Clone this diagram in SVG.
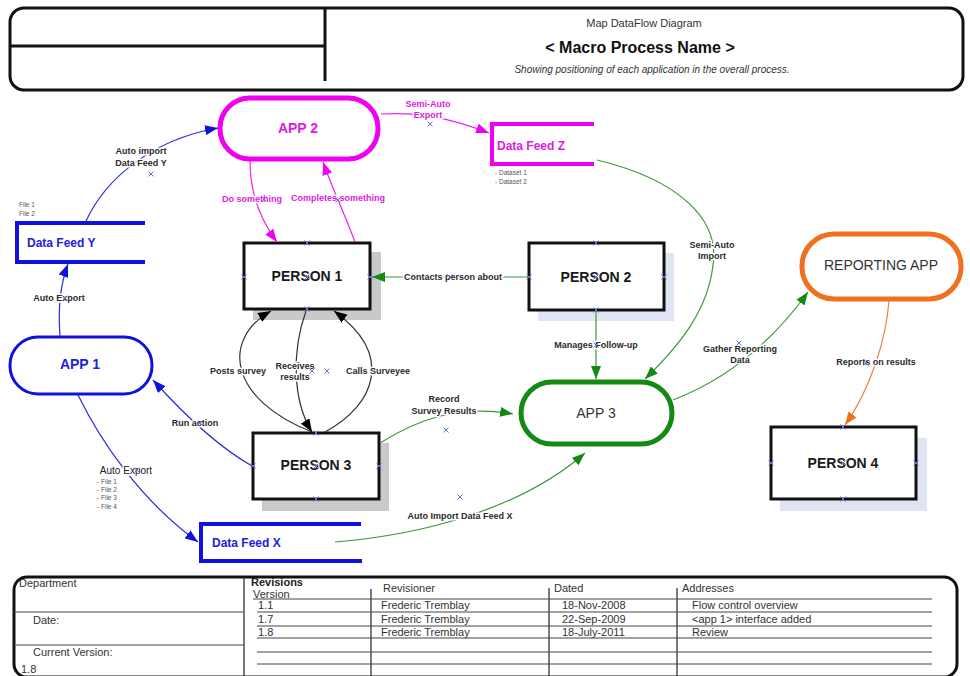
<svg xmlns="http://www.w3.org/2000/svg" xmlns:xlink="http://www.w3.org/1999/xlink" width="970" height="676" viewBox="0 0 970 676">
<style>
text{font-family:"Liberation Sans",Arial,sans-serif}
.frame{fill:none;stroke:#111;stroke-width:3}
.rule{stroke:#444;stroke-width:1}
.vrule{stroke:#333;stroke-width:1.3}
.ft{font-size:11px;fill:#333}
.person{fill:#fff;stroke:#111;stroke-width:3}
.shg{fill:#c9c9c9}
.shb{fill:#dfe5f2}
.ptxt{font-size:14px;font-weight:bold;fill:#1a1a1a;text-anchor:middle}
.lbl{font-size:9px;font-weight:bold;fill:#2a2a2a;text-anchor:middle;stroke:#fff;stroke-width:3;paint-order:stroke;stroke-linejoin:round}
.lm{fill:#e020e0}
.small{font-size:6.5px;fill:#555}
.c{fill:none;stroke-width:1.2}
.blue{stroke:#2a2ae0}
.mag{stroke:#f020f0}
.grn{stroke:#3a9a3a}
.org{stroke:#f08040}
.blk{stroke:#333}
.feedB{fill:none;stroke:#1010e0;stroke-width:4}
.feedM{fill:none;stroke:#f000f0;stroke-width:4}
.cx{fill:none;stroke:#6c6cdc;stroke-width:1}
</style>
<defs>
<marker id="aB" viewBox="0 0 13 10" refX="13" refY="5" markerWidth="13" markerHeight="10" markerUnits="userSpaceOnUse" orient="auto"><path d="M0,0 L13,5 L0,10 z" fill="#1010e0"/></marker>
<marker id="aM" viewBox="0 0 13 10" refX="13" refY="5" markerWidth="13" markerHeight="10" markerUnits="userSpaceOnUse" orient="auto"><path d="M0,0 L13,5 L0,10 z" fill="#f000f0"/></marker>
<marker id="aG" viewBox="0 0 13 10" refX="13" refY="5" markerWidth="13" markerHeight="10" markerUnits="userSpaceOnUse" orient="auto"><path d="M0,0 L13,5 L0,10 z" fill="#138a13"/></marker>
<marker id="aO" viewBox="0 0 13 10" refX="13" refY="5" markerWidth="13" markerHeight="10" markerUnits="userSpaceOnUse" orient="auto"><path d="M0,0 L13,5 L0,10 z" fill="#f07020"/></marker>
<marker id="aK" viewBox="0 0 13 10" refX="13" refY="5" markerWidth="13" markerHeight="10" markerUnits="userSpaceOnUse" orient="auto"><path d="M0,0 L13,5 L0,10 z" fill="#000"/></marker>
<path id="x" class="cx" d="M-2.5,-2.5 L2.5,2.5 M-2.5,2.5 L2.5,-2.5"/>
</defs>
<rect width="970" height="676" fill="#fff"/>

<g id="header">
<rect class="frame" x="10" y="8" width="953" height="82" rx="14"/>
<line x1="325" y1="8" x2="325" y2="81" stroke="#111" stroke-width="3"/>
<line x1="10" y1="46" x2="325" y2="46" stroke="#111" stroke-width="3"/>
<text x="644" y="27" font-size="11" fill="#333" text-anchor="middle">Map DataFlow Diagram</text>
<text x="640" y="53" font-size="16" font-weight="bold" fill="#111" text-anchor="middle">&lt; Macro Process Name &gt;</text>
<text x="652" y="73" font-size="10" font-style="italic" fill="#333" text-anchor="middle">Showing positioning of each application in the overall process.</text>
</g>

<g id="app2">
<rect x="220" y="98" width="158" height="61" rx="30" fill="#fff" stroke="#f000f0" stroke-width="5"/>
<text x="298" y="133" font-size="14" font-weight="bold" fill="#e020e0" text-anchor="middle">APP 2</text>
</g>

<g id="datafeedY">
<path class="feedB" d="M145,223 L17,223 L17,262 L145,262"/>
<text x="27" y="247" font-size="12" font-weight="bold" fill="#2222dd">Data Feed Y</text>
<text class="small" x="19" y="207">File 1</text>
<text class="small" x="19" y="216">File 2</text>
</g>

<g id="datafeedZ">
<path class="feedM" d="M594,124 L492,124 L492,164 L594,164"/>
<text x="497" y="150" font-size="12" font-weight="bold" fill="#e020e0">Data Feed Z</text>
<text class="small" x="495" y="175">- Dataset 1</text>
<text class="small" x="495" y="184">- Dataset 2</text>
</g>

<g id="app1">
<rect x="10" y="337" width="142" height="57" rx="28" fill="#fff" stroke="#1010e0" stroke-width="3"/>
<text x="80" y="369" font-size="14" font-weight="bold" fill="#2222dd" text-anchor="middle">APP 1</text>
</g>

<g id="person1">
<rect class="shg" x="253" y="252" width="128" height="68"/>
<rect class="person" x="244" y="243" width="126" height="66"/>
<text class="ptxt" x="307" y="281">PERSON 1</text>
</g>

<g id="person2">
<rect class="shb" x="538" y="253" width="136" height="68"/>
<rect class="person" x="529" y="243" width="135" height="67"/>
<text class="ptxt" x="596" y="282">PERSON 2</text>
</g>

<g id="reportingApp">
<rect x="802" y="234" width="159" height="65" rx="32" fill="#fff" stroke="#f07020" stroke-width="5"/>
<text x="881" y="270" font-size="14" fill="#333" text-anchor="middle">REPORTING APP</text>
</g>

<g id="app3">
<rect x="521" y="382" width="151" height="62" rx="31" fill="#fff" stroke="#138a13" stroke-width="5"/>
<text x="596" y="418" font-size="14" fill="#333" text-anchor="middle">APP 3</text>
</g>

<g id="person3">
<rect class="shg" x="262" y="443" width="127" height="68"/>
<rect class="person" x="253" y="433" width="126" height="66"/>
<text class="ptxt" x="316" y="470">PERSON 3</text>
</g>

<g id="person4">
<rect class="shb" x="780" y="438" width="147" height="73"/>
<rect class="person" x="771" y="427" width="145" height="72"/>
<text class="ptxt" x="843" y="468">PERSON 4</text>
</g>

<g id="datafeedX">
<path class="feedB" d="M361,524 L201,524 L201,561 L362,561"/>
<text x="212" y="547" font-size="12" font-weight="bold" fill="#2222dd">Data Feed X</text>
</g>

<g id="connectors">
<path class="c blue" d="M86,221 C105,180 150,140 218,128" marker-end="url(#aB)"/>
<path class="c blue" d="M60,336 C58,310 60,285 68,264" marker-end="url(#aB)"/>
<path class="c mag" d="M250,161 C250,195 262,222 277,242" marker-end="url(#aM)"/>
<path class="c mag" d="M355,242 C345,215 333,190 323,162" marker-end="url(#aM)"/>
<path class="c mag" d="M381,114 C420,112 450,118 489,133" marker-end="url(#aM)"/>
<path class="c grn" d="M597,160 C680,180 720,220 713,265 C708,310 680,345 645,379" marker-end="url(#aG)"/>
<path class="c grn" d="M528,277 L372,277" marker-end="url(#aG)"/>
<path class="c grn" d="M596,311 L596,379" marker-end="url(#aG)"/>
<path class="c grn" d="M673,400 C725,380 770,345 808,292" marker-end="url(#aG)"/>
<path class="c org" d="M889,301 C886,340 870,390 845,425" marker-end="url(#aO)"/>
<path class="c blk" d="M312,432 C230,400 220,340 271,311" marker-end="url(#aK)"/>
<path class="c blk" d="M306,311 C292,350 292,400 312,432" marker-end="url(#aK)"/>
<path class="c blk" d="M325,432 C375,405 395,355 334,311" marker-end="url(#aK)"/>
<path class="c blue" d="M252,466 C215,445 180,410 153,380" marker-end="url(#aB)"/>
<path class="c blue" d="M78,395 C100,440 140,500 198,542" marker-end="url(#aB)"/>
<path class="c grn" d="M380,443 C420,418 460,405 513,414" marker-end="url(#aG)"/>
<path class="c grn" d="M335,542 C420,535 520,510 585,453" marker-end="url(#aG)"/>

<text class="lbl" x="141" y="154">Auto import</text>
<text class="lbl" x="141" y="166">Data Feed Y</text>
<text class="lbl" x="59" y="301">Auto Export</text>
<text class="lbl lm" x="252" y="202">Do something</text>
<text class="lbl lm" x="338" y="201">Completes something</text>
<text class="lbl lm" x="428" y="107">Semi-Auto</text>
<text class="lbl lm" x="428" y="118">Export</text>
<text class="lbl" x="712" y="248">Semi-Auto</text>
<text class="lbl" x="712" y="259">Import</text>
<text class="lbl" x="453" y="280">Contacts person about</text>
<text class="lbl" x="596" y="348">Manages Follow-up</text>
<text class="lbl" x="740" y="352">Gather Reporting</text>
<text class="lbl" x="740" y="363">Data</text>
<text class="lbl" x="876" y="365">Reports on results</text>
<text class="lbl" x="238" y="374">Posts survey</text>
<text class="lbl" x="295" y="369">Receives</text>
<text class="lbl" x="295" y="380">results</text>
<text class="lbl" x="378" y="374">Calls Surveyee</text>
<text class="lbl" x="444" y="402">Record</text>
<text class="lbl" x="444" y="414">Survey Results</text>
<text class="lbl" x="195" y="426">Run action</text>
<text class="lbl" x="460" y="519">Auto Import Data Feed X</text>
<text x="126" y="474" font-size="10" fill="#222" text-anchor="middle" stroke="#fff" stroke-width="3" paint-order="stroke">Auto Export</text>
<text class="small" x="97" y="484">- File 1</text>
<text class="small" x="97" y="492">- File 2</text>
<text class="small" x="97" y="500">- File 3</text>
<text class="small" x="97" y="509">- File 4</text>
</g>

<g id="marks">
<use xlink:href="#x" x="151" y="174"/>
<use xlink:href="#x" x="65" y="298"/>
<use xlink:href="#x" x="264" y="199"/>
<use xlink:href="#x" x="338" y="200"/>
<use xlink:href="#x" x="430" y="124"/>
<use xlink:href="#x" x="450" y="277"/>
<use xlink:href="#x" x="596" y="345"/>
<use xlink:href="#x" x="739" y="343"/>
<use xlink:href="#x" x="866" y="363"/>
<use xlink:href="#x" x="312" y="371"/>
<use xlink:href="#x" x="327" y="371"/>
<use xlink:href="#x" x="200" y="423"/>
<use xlink:href="#x" x="137" y="470"/>
<use xlink:href="#x" x="446" y="430"/>
<use xlink:href="#x" x="460" y="497"/>
<use xlink:href="#x" x="307" y="243"/><use xlink:href="#x" x="244" y="277"/><use xlink:href="#x" x="370" y="277"/><use xlink:href="#x" x="307" y="277"/><use xlink:href="#x" x="307" y="309"/>
<use xlink:href="#x" x="596" y="243"/><use xlink:href="#x" x="529" y="277"/><use xlink:href="#x" x="664" y="277"/><use xlink:href="#x" x="596" y="277"/><use xlink:href="#x" x="596" y="310"/>
<use xlink:href="#x" x="316" y="433"/><use xlink:href="#x" x="253" y="466"/><use xlink:href="#x" x="379" y="466"/><use xlink:href="#x" x="316" y="466"/><use xlink:href="#x" x="316" y="499"/>
<use xlink:href="#x" x="843" y="427"/><use xlink:href="#x" x="771" y="463"/><use xlink:href="#x" x="916" y="463"/><use xlink:href="#x" x="843" y="463"/><use xlink:href="#x" x="843" y="499"/>
</g>

<g id="footer">
<rect class="frame" x="14" y="577" width="943" height="100" rx="13"/>
<line x1="244" y1="577" x2="244" y2="676" stroke="#333" stroke-width="1.3"/>
<line class="rule" x1="14" y1="612" x2="244" y2="612"/>
<line class="rule" x1="14" y1="645" x2="244" y2="645"/>
<text class="ft" x="19" y="587">Department</text>
<text class="ft" x="33" y="624">Date:</text>
<text class="ft" x="33" y="656">Current Version:</text>
<text class="ft" x="21" y="673">1.8</text>
<text x="251" y="586" font-size="11" font-weight="bold" fill="#222">Revisions</text>
<text class="ft" x="253" y="598" font-size="10.5">Version</text>
<line class="vrule" x1="371" y1="589" x2="371" y2="676"/>
<line class="vrule" x1="549" y1="588" x2="549" y2="676"/>
<line class="vrule" x1="677" y1="588" x2="677" y2="676"/>
<line class="rule" x1="253" y1="599" x2="932" y2="599"/>
<line class="rule" x1="257" y1="612" x2="932" y2="612"/>
<line class="rule" x1="257" y1="626" x2="932" y2="626"/>
<line class="rule" x1="257" y1="638" x2="932" y2="638"/>
<line class="rule" x1="257" y1="652" x2="932" y2="652"/>
<line class="rule" x1="257" y1="664" x2="932" y2="664"/>
<text class="ft" x="383" y="592">Revisioner</text>
<text class="ft" x="554" y="592">Dated</text>
<text class="ft" x="682" y="592">Addresses</text>
<text class="ft" x="258" y="609">1.1</text>
<text class="ft" x="258" y="623">1.7</text>
<text class="ft" x="258" y="636">1.8</text>
<text class="ft" x="381" y="609">Frederic Tremblay</text>
<text class="ft" x="381" y="623">Frederic Tremblay</text>
<text class="ft" x="381" y="636">Frederic Tremblay</text>
<text class="ft" x="562" y="609">18-Nov-2008</text>
<text class="ft" x="562" y="623">22-Sep-2009</text>
<text class="ft" x="562" y="636">18-July-2011</text>
<text class="ft" x="692" y="609">Flow control overview</text>
<text class="ft" x="692" y="623">&lt;app 1&gt; interface added</text>
<text class="ft" x="692" y="636">Review</text>
</g>
</svg>
